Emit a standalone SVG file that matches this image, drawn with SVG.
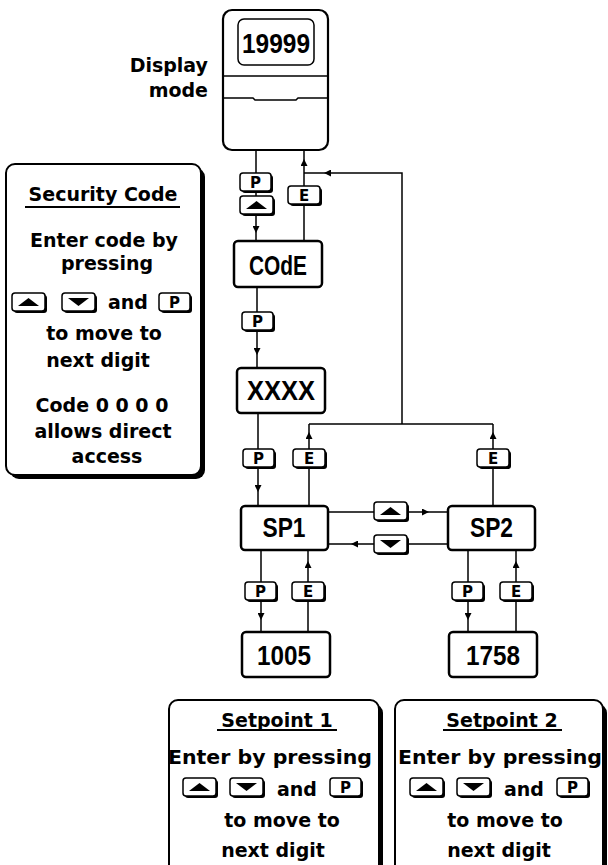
<svg xmlns="http://www.w3.org/2000/svg" xmlns:xlink="http://www.w3.org/1999/xlink" width="608" height="865" viewBox="0 0 608 865">
<style>
.ln{fill:none;stroke:#000;stroke-width:1.5}
.arr{marker-end:url(#ah)}
.node{fill:#fff;stroke:#000;stroke-width:2.5}
.lbl{font-family:"Liberation Sans",Arial,sans-serif;font-weight:bold;font-size:28px;text-anchor:middle;fill:#000}
.t{font-family:"DejaVu Sans","Liberation Sans",sans-serif;font-weight:bold;font-size:19px;text-anchor:middle;fill:#000}
.bt{font-family:"DejaVu Sans","Liberation Sans",sans-serif;font-weight:bold;font-size:15px;text-anchor:middle;fill:#000}
.bf{fill:#fff;stroke:#000;stroke-width:1.5}
.card{fill:#fff;stroke:#000;stroke-width:2}
</style>
<defs>
<marker id="ah" viewBox="0 0 7 7" refX="7" refY="3.5" markerWidth="7" markerHeight="7" markerUnits="userSpaceOnUse" orient="auto"><path d="M0,0 L7,3.5 L0,7 z" fill="#000"/></marker>
<g id="bP"><rect x="2" y="2" width="31" height="18" rx="3" fill="#000"/><rect width="31" height="18" rx="3" class="bf"/><text x="15.5" y="14.8" class="bt">P</text></g>
<g id="bE"><rect x="2" y="2" width="32" height="18" rx="3" fill="#000"/><rect width="32" height="18" rx="3" class="bf"/><text x="16" y="14.8" class="bt">E</text></g>
<g id="bU"><rect x="2" y="2" width="33" height="18" rx="3" fill="#000"/><rect width="33" height="18" rx="3" class="bf"/><polygon points="6,13 16.5,5 27,13" fill="#000"/></g>
<g id="bD"><rect x="2" y="2" width="33" height="18" rx="3" fill="#000"/><rect width="33" height="18" rx="3" class="bf"/><polygon points="6,5 27,5 16.5,13" fill="#000"/></g>
</defs>
<rect width="608" height="865" fill="#fff"/>

<g id="connectors">
<path class="ln arr" d="M256,233 V241 M256,150 V233"/>
<path class="ln arr" d="M304,159 V150 M304,241 V159"/>
<path class="ln arr" d="M304,173 H324 M402,424 V173 H324"/>
<path class="ln arr" d="M257,355 V368 M257,287 V355"/>
<path class="ln arr" d="M258,492 V506 M258,413 V492"/>
<path class="ln arr" d="M309,424 H493 M309,432 V424 M309,506 V432"/>
<path class="ln arr" d="M493,432 V424 M493,506 V432"/>
<path class="ln arr" d="M429,512 H448 M328,512 H429"/>
<path class="ln arr" d="M351,544 H328 M448,544 H351"/>
<path class="ln arr" d="M261,620 V632 M261,550 V620"/>
<path class="ln arr" d="M308,561 V550 M308,632 V561"/>
<path class="ln arr" d="M468,620 V632 M468,550 V620"/>
<path class="ln arr" d="M516,561 V550 M516,632 V561"/>
<use xlink:href="#bP" x="240" y="173"/>
<use xlink:href="#bU" x="240" y="196"/>
<use xlink:href="#bE" x="288" y="186"/>
<use xlink:href="#bP" x="242" y="312"/>
<use xlink:href="#bP" x="243" y="449"/>
<use xlink:href="#bE" x="293" y="449"/>
<use xlink:href="#bE" x="477" y="449"/>
<use xlink:href="#bU" x="374" y="502"/>
<use xlink:href="#bD" x="374" y="535"/>
<use xlink:href="#bP" x="245" y="582"/>
<use xlink:href="#bE" x="292" y="582"/>
<use xlink:href="#bP" x="452" y="582"/>
<use xlink:href="#bE" x="500" y="582"/>
</g>

<g id="display">
<rect x="223" y="10" width="105" height="140" rx="9" fill="#fff" stroke="#000" stroke-width="2.2"/>
<rect x="238" y="19" width="76" height="46" rx="6" fill="none" stroke="#000" stroke-width="1.5"/>
<text x="276" y="53" class="lbl" textLength="68" lengthAdjust="spacingAndGlyphs">19999</text>
<path class="ln" d="M223,76 H328 M223,98 H253 L255,100 H296 L298,98 H328"/>
<text x="208" y="72" class="t" style="text-anchor:end">Display</text>
<text x="208" y="97" class="t" style="text-anchor:end">mode</text>
</g>

<g id="code">
<rect x="234" y="241" width="88" height="46" rx="4" class="node"/>
<text x="278" y="275" class="lbl" textLength="58" lengthAdjust="spacingAndGlyphs">COdE</text>
</g>
<g id="xxxx">
<rect x="237" y="368" width="88" height="45" rx="4" class="node"/>
<text x="281" y="400" class="lbl" textLength="68" lengthAdjust="spacingAndGlyphs">XXXX</text>
</g>
<g id="sp1">
<rect x="241" y="506" width="87" height="44" rx="4" class="node"/>
<text x="284" y="537" class="lbl" textLength="43" lengthAdjust="spacingAndGlyphs">SP1</text>
</g>
<g id="sp2">
<rect x="448" y="506" width="87" height="44" rx="4" class="node"/>
<text x="491.5" y="537" class="lbl" textLength="43" lengthAdjust="spacingAndGlyphs">SP2</text>
</g>
<g id="v1005">
<rect x="242" y="632" width="88" height="45" rx="4" class="node"/>
<text x="284" y="665" class="lbl" textLength="54" lengthAdjust="spacingAndGlyphs">1005</text>
</g>
<g id="v1758">
<rect x="449" y="632" width="88" height="45" rx="4" class="node"/>
<text x="493" y="665" class="lbl" textLength="54" lengthAdjust="spacingAndGlyphs">1758</text>
</g>

<g id="security">
<rect x="10" y="168" width="195" height="311" rx="9" fill="#000"/>
<rect x="6" y="164" width="195" height="311" rx="9" class="card"/>
<text x="103" y="201" class="t">Security Code</text>
<rect x="25" y="206" width="155" height="2" fill="#000"/>
<text x="104" y="247" class="t">Enter code by</text>
<text x="107" y="270" class="t">pressing</text>
<use xlink:href="#bU" x="12" y="293"/>
<use xlink:href="#bD" x="62" y="293"/>
<text x="128" y="309" class="t">and</text>
<use xlink:href="#bP" x="159" y="293"/>
<text x="104" y="340" class="t">to move to</text>
<text x="98" y="367" class="t">next digit</text>
<text x="102" y="412" class="t">Code 0 0 0 0</text>
<text x="103" y="438" class="t">allows direct</text>
<text x="107" y="463" class="t">access</text>
</g>

<g id="setpoint1">
<rect x="173" y="704" width="210" height="180" rx="9" fill="#000"/>
<rect x="169" y="700" width="210" height="180" rx="9" class="card"/>
<text x="277" y="727" class="t">Setpoint 1</text>
<rect x="217" y="729" width="120" height="2" fill="#000"/>
<text x="270" y="764" class="t" textLength="204" lengthAdjust="spacingAndGlyphs">Enter by pressing</text>
<use xlink:href="#bU" x="183" y="778"/>
<use xlink:href="#bD" x="230" y="778"/>
<text x="297" y="796" class="t">and</text>
<use xlink:href="#bP" x="330" y="778"/>
<text x="282" y="827" class="t">to move to</text>
<text x="273" y="857" class="t">next digit</text>
</g>

<g id="setpoint2">
<rect x="399" y="704" width="208" height="180" rx="9" fill="#000"/>
<rect x="395" y="700" width="208" height="180" rx="9" class="card"/>
<text x="502" y="727" class="t">Setpoint 2</text>
<rect x="443" y="729" width="119" height="2" fill="#000"/>
<text x="500" y="764" class="t" textLength="204" lengthAdjust="spacingAndGlyphs">Enter by pressing</text>
<use xlink:href="#bU" x="410" y="778"/>
<use xlink:href="#bD" x="457" y="778"/>
<text x="524" y="796" class="t">and</text>
<use xlink:href="#bP" x="557" y="778"/>
<text x="505" y="827" class="t">to move to</text>
<text x="499" y="857" class="t">next digit</text>
</g>
</svg>
